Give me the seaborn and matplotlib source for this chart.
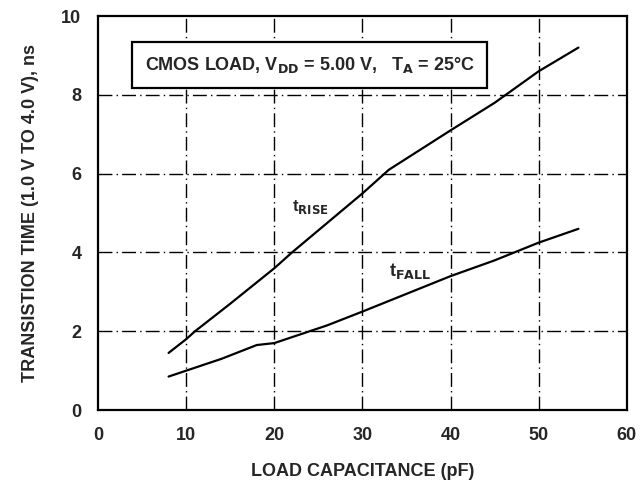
"""transition time vs load capacitance (datasheet style figure)"""
import matplotlib.pyplot as plt
import pandas as pd
import seaborn as sns

# curves
rise_pf = [8, 10, 11, 15, 20, 22, 26, 30, 33, 40, 45, 50, 54.5]
rise_ns = [1.45, 1.8, 2.0, 2.7, 3.6, 4.0, 4.75, 5.5, 6.1, 7.1, 7.8, 8.6, 9.2]
fall_pf = [8, 10, 14, 18, 20, 22, 26, 30, 35, 40, 45, 50, 54.5]
fall_ns = [0.85, 1.0, 1.3, 1.65, 1.7, 1.85, 2.15, 2.5, 2.95, 3.4, 3.8, 4.25, 4.6]

x_ticks = [0, 10, 20, 30, 40, 50, 60]
y_ticks = [0, 2, 4, 6, 8, 10]

sns.set_style("white")
plt.rcParams["font.family"] = ["Liberation Sans", "DejaVu Sans"]
plt.rcParams["font.weight"] = "bold"
plt.rcParams["mathtext.default"] = "bf"

ds = pd.concat(
    [
        pd.DataFrame({"pf": rise_pf, "ns": rise_ns, "curve": "rise"}),
        pd.DataFrame({"pf": fall_pf, "ns": fall_ns, "curve": "fall"}),
    ]
)

f = plt.figure(figsize=(6.41, 4.87), dpi=100)
ax = f.add_axes([0.153, 0.158, 0.825, 0.809])

for x in x_ticks[1:-1]:
    ax.axvline(x, color="black", lw=1.0, ls=(0, (10, 3, 1, 3)), zorder=0)
for y in y_ticks[1:-1]:
    ax.axhline(y, color="black", lw=1.0, ls=(0, (10, 3, 1, 3)), zorder=0)

sns.lineplot(
    data=ds,
    x="pf",
    y="ns",
    hue="curve",
    palette={"rise": "black", "fall": "black"},
    linewidth=1.6,
    legend=False,
    ax=ax,
    sort=False,
)

ax.set_xlim(0, 60)
ax.set_ylim(0, 10)
ax.set_xticks(x_ticks)
ax.set_yticks(y_ticks)
ax.tick_params(labelsize=13, length=0, pad=12)
for s in ax.spines.values():
    s.set_color("black")
    s.set_linewidth(1.6)

ax.set_xlabel("LOAD CAPACITANCE (pF)", fontsize=13, fontweight="bold", labelpad=14)
ax.set_ylabel(
    "TRANSISTION TIME (1.0 V TO 4.0 V), ns", fontsize=13, fontweight="bold", labelpad=16
)

ax.text(
    24,
    8.76,
    r"CMOS LOAD, V$_{\mathbf{DD}}$ = 5.00 V,   T$_{\mathbf{A}}$ = 25°C",
    fontsize=13,
    fontweight="bold",
    ha="center",
    va="center",
    bbox=dict(boxstyle="square,pad=0.7", fc="white", ec="black", lw=1.6),
)
ax.text(22, 5.05, r"t$_{\mathbf{RISE}}$", fontsize=12, fontweight="bold")
ax.text(33, 3.4, r"t$_{\mathbf{FALL}}$", fontsize=13, fontweight="bold")

f.savefig("out.png", dpi=100)
